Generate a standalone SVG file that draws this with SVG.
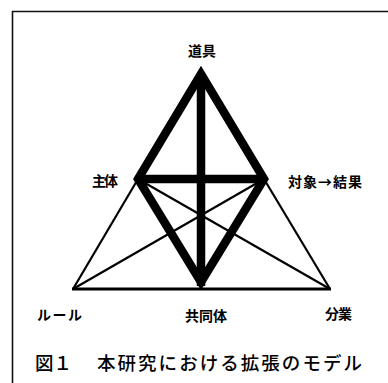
<svg xmlns="http://www.w3.org/2000/svg" width="388" height="383" viewBox="0 0 388 383">
<style>
.lbl{font-family:"Noto Sans CJK JP","Noto Sans",sans-serif;font-weight:bold;font-size:14px;fill:#000}
.cap{font-family:"Liberation Serif","Noto Sans CJK JP",serif;font-size:18.5px;font-weight:500;fill:#000}
.thick{fill:none;stroke:#000;stroke-width:8.5;stroke-linejoin:miter;stroke-miterlimit:10}
.thin{fill:none;stroke:#000;stroke-width:2.2}
</style>
<rect width="388" height="383" fill="#fff"/>
<path d="M12.5,383 V11.5 H388" fill="none" stroke="#111" stroke-width="1.6"/>
<g id="connectors">
<line class="thin" x1="73" y1="289" x2="138" y2="179"/>
<line class="thin" x1="330" y1="289" x2="264" y2="179"/>
<line class="thin" x1="73" y1="289" x2="264" y2="179"/>
<line class="thin" x1="330" y1="289" x2="138" y2="179"/>
<line x1="72" y1="289" x2="331" y2="289" stroke="#000" stroke-width="3"/>
<path class="thick" d="M201,74 L138,179 L201,282 L264,179 Z"/>
<line class="thick" x1="138" y1="179" x2="264" y2="179"/>
<line class="thick" x1="201" y1="74" x2="201" y2="286"/>
</g>
<g id="node-tool"><text class="lbl" x="202" y="55.5" text-anchor="middle">道具</text></g>
<g id="node-subject"><text class="lbl" x="92" y="186" font-size="13" textLength="26">主体</text></g>
<g id="node-object"><text class="lbl" x="288" y="187" textLength="74">対象→結果</text></g>
<g id="node-rule"><text class="lbl" x="37" y="320" textLength="45">ルール</text></g>
<g id="node-community"><text class="lbl" x="185" y="321" textLength="42">共同体</text></g>
<g id="node-division"><text class="lbl" x="325" y="319" textLength="27">分業</text></g>
<g id="caption">
<text class="cap" x="35" y="370">図１</text>
<text class="cap" x="97" y="370" textLength="265">本研究における拡張のモデル</text>
</g>
</svg>
